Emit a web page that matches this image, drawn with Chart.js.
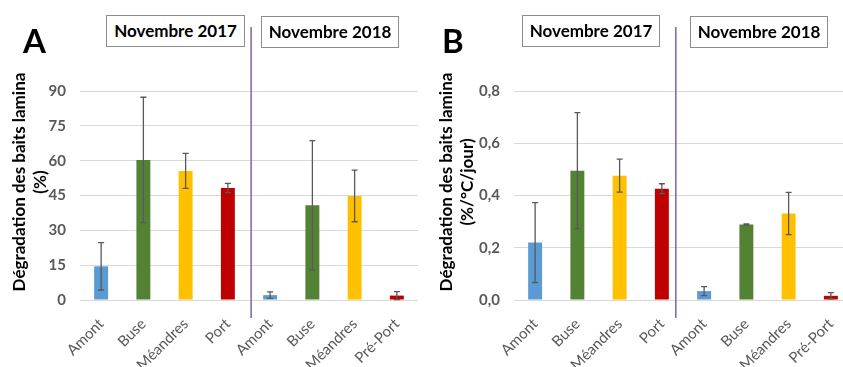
<!DOCTYPE html>
<html>
<head>
<meta charset="utf-8">
<title>Dégradation des baits lamina</title>
<script src="https://cdn.jsdelivr.net/npm/chart.js"></script>
<style>
    html, body { margin: 0; padding: 0; overflow: hidden; background: #fff; }
    body { width: 843px; height: 367px; position: relative; font-family: Lato, "Liberation Sans", sans-serif; }
    canvas { position: absolute; top: 0; }
    .panel { position: absolute; font-weight: bold; font-size: 33px; color: #000; line-height: 1; }
    .period { position: absolute; border: 1.5px solid #8c8c8c; box-sizing: border-box; height: 32px;
              font-weight: bold; font-size: 17px; text-align: center; line-height: 29px; color: #000; background: #fff; }
    .ytitle { position: absolute; width: 260px; height: 42px; line-height: 21px; font-weight: bold; font-size: 17px;
              text-align: center; transform: rotate(-90deg); color: #000; }
</style>
</head>
<body>
<canvas id="chartA" width="421" height="367" style="left:0"></canvas>
<canvas id="chartB" width="434" height="367" style="left:421px"></canvas>

<div class="panel" style="left:23px; top:24px">A</div>
<div class="panel" style="left:442px; top:24px">B</div>
<div class="period" style="left:106px; top:15px; width:139px">Novembre 2017</div>
<div class="period" style="left:261px; top:16px; width:138px">Novembre 2018</div>
<div class="period" style="left:522px; top:15px; width:138px">Novembre 2017</div>
<div class="period" style="left:690px; top:16px; width:138px">Novembre 2018</div>
<div class="ytitle" style="left:-101px; top:161px">Dégradation des baits lamina<br>(%)</div>
<div class="ytitle" style="left:326px; top:161px">Dégradation des baits lamina<br>(%/°C/jour)</div>

<script>
// sites, two campaigns side by side
const categories = ['Amont', 'Buse', 'Méandres', 'Port', 'Amont', 'Buse', 'Méandres', 'Pré-Port'];

// A: degradation in %
const degradationPct    = [14.5, 60.3, 55.6, 48.2, 2.1, 40.8, 44.8, 1.9];
const degradationPctErr = [10.2, 27.0, 7.5, 2.0, 1.4, 27.8, 11.1, 1.7];
const pctTicks = [0, 15, 30, 45, 60, 75, 90];

// B: degradation rate in %/°C/jour
const degradationRate    = [0.220, 0.495, 0.476, 0.426, 0.034, 0.289, 0.331, 0.016];
const degradationRateErr = [0.153, 0.222, 0.063, 0.019, 0.017, 0.002, 0.081, 0.012];
const rateTicks = [0, 0.2, 0.4, 0.6, 0.8];

const siteColors = ['#5B9BD5', '#548235', '#FFC000', '#C00000', '#5B9BD5', '#548235', '#FFC000', '#C00000'];

// error bars + divider between the two years
const extrasPlugin = {
    id: 'extras',
    afterDatasetsDraw(chart, args, opts) {
        const ctx = chart.ctx;
        const x = chart.scales.x, y = chart.scales.y;
        const vals = chart.data.datasets[0].data;
        ctx.save();
        ctx.strokeStyle = '#595959';
        ctx.lineWidth = 1.3;
        for (let i = 0; i < vals.length; i++) {
            const cx = x.getPixelForValue(i);
            const hi = y.getPixelForValue(vals[i] + opts.err[i]);
            const lo = y.getPixelForValue(Math.max(0, vals[i] - opts.err[i]));
            ctx.beginPath();
            ctx.moveTo(cx, hi); ctx.lineTo(cx, lo);
            ctx.moveTo(cx - 3, hi); ctx.lineTo(cx + 3, hi);
            ctx.moveTo(cx - 3, lo); ctx.lineTo(cx + 3, lo);
            ctx.stroke();
        }
        const dx = x.getPixelForValue(opts.divider);
        ctx.strokeStyle = '#7a64a6';
        ctx.lineWidth = 1.5;
        ctx.beginPath();
        ctx.moveTo(dx, chart.chartArea.top - 64);
        ctx.lineTo(dx, chart.chartArea.bottom + 18);
        ctx.stroke();
        ctx.restore();
    }
};

function makeChart(id, values, errors, ticks, yMax, axisWidth, fmt, divider) {
    return new Chart(document.getElementById(id), {
        type: 'bar',
        data: {
            labels: categories,
            datasets: [{
                data: values,
                backgroundColor: siteColors,
                barPercentage: 0.33,
                categoryPercentage: 1
            }]
        },
        options: {
            responsive: false,
            animation: false,
            layout: { padding: { top: 91, right: 3, left: 0, bottom: 0 } },
            scales: {
                x: {
                    grid: { display: false },
                    border: { display: false },
                    ticks: {
                        autoSkip: false,
                        minRotation: 45,
                        maxRotation: 45,
                        padding: 7,
                        color: '#595959',
                        font: { family: 'Lato', size: 15 }
                    },
                    afterFit(scale) { scale.height = 67; }
                },
                y: {
                    min: 0,
                    max: yMax,
                    border: { display: false },
                    grid: { color: '#d9d9d9', lineWidth: 1, drawTicks: false },
                    afterBuildTicks(scale) { scale.ticks = ticks.map(v => ({ value: v })); },
                    ticks: {
                        padding: 14,
                        color: '#595959',
                        font: { family: 'Lato', size: 15, weight: 'bold' },
                        callback: fmt
                    },
                    afterFit(scale) { scale.width = axisWidth; }
                }
            },
            plugins: {
                legend: { display: false },
                tooltip: { enabled: false },
                extras: { err: errors, divider: divider }
            }
        },
        plugins: [extrasPlugin]
    });
}

makeChart('chartA', degradationPct, degradationPctErr, pctTicks, 90, 80, v => String(v), 3.55);
makeChart('chartB', degradationRate, degradationRateErr, rateTicks, 0.8, 93, v => v.toFixed(1).replace('.', ','), 3.33);
</script>
</body>
</html>
